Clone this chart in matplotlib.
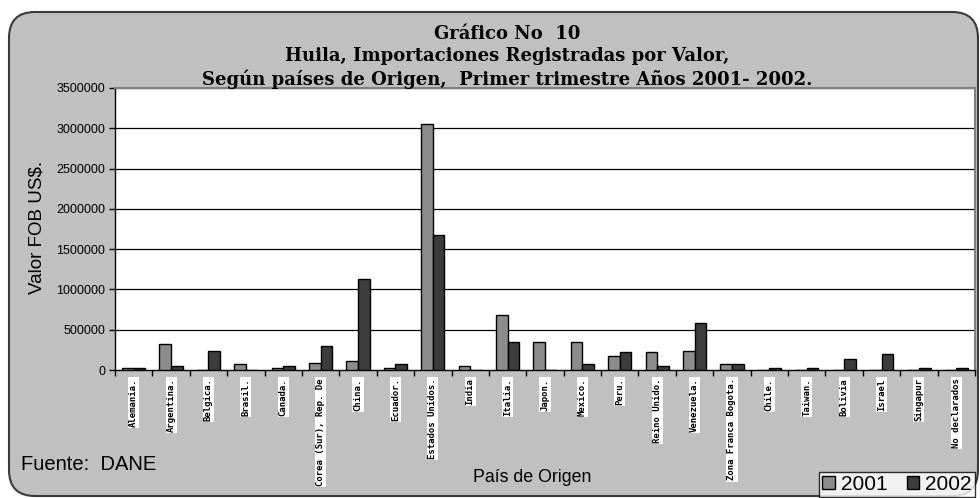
import numpy as np
import matplotlib
matplotlib.use("Agg")
import matplotlib.pyplot as plt
from matplotlib.patches import FancyBboxPatch, Patch

paises = ["Alemania.", "Argentina.", "Belgica.", "Brasil.", "Canada.",
          "Corea (Sur), Rep. De", "China.", "Ecuador.", "Estados Unidos.",
          "India", "Italia.", "Japon.", "Mexico.", "Peru.", "Reino Unido.",
          "Venezuela.", "Zona Franca Bogota.", "Chile.", "Taiwan.", "Bolivia",
          "Israel", "Singapur", "No declarados"]
v2001 = [20000, 322000, 0, 70000, 20000, 90000, 116000, 20000, 3050000,
         50000, 686000, 347000, 347000, 174000, 223000, 240000, 70000,
         0, 0, 0, 0, 0, 0]
v2002 = [20000, 50000, 240000, 0, 45000, 300000, 1130000, 70000, 1680000,
         0, 347000, 0, 70000, 223000, 50000, 583000, 70000,
         20000, 20000, 136000, 198000, 20000, 20000]
anios = ["2001", "2002"]
titulo = "Gráfico No  10\nHuila, Importaciones Registradas por Valor,\nSegún países de Origen,  Primer trimestre Años 2001- 2002."

W, H = 980, 498
fig = plt.figure(figsize=(W/100, H/100), dpi=100)

# background frame with rounded corners (pixel coordinates)
bg = fig.add_axes([0, 0, 1, 1], zorder=0)
bg.set_xlim(0, W)
bg.set_ylim(H, 0)
bg.axis("off")
frame = FancyBboxPatch((9, 12), 969, 484, boxstyle="round,pad=0,rounding_size=26",
                       facecolor="#c0c0c0", edgecolor="#3a3a3a", linewidth=1.5)
bg.add_patch(frame)

ax = fig.add_axes([115/W, 1-370/H, (975-115)/W, (370-88)/H], zorder=1)
ax.set_facecolor("white")

x = np.arange(len(paises))
bw = 0.31
ax.bar(x - bw/2, v2001, bw, color="#8c8c8c", edgecolor="black", linewidth=1, zorder=3)
ax.bar(x + bw/2, v2002, bw, color="#3c3c3c", edgecolor="black", linewidth=1, zorder=3)

ax.set_xlim(-0.5, len(paises) - 0.5)
ax.set_ylim(0, 3500000)
ax.set_yticks(np.arange(0, 3500001, 500000))
ax.set_yticklabels([str(int(v)) for v in np.arange(0, 3500001, 500000)],
                   fontsize=9, family="Liberation Sans")
for t in np.arange(500000, 3500001, 500000):
    ax.axhline(t, color="black", linewidth=0.9, zorder=1)

ax.set_xticks(x)
ax.set_xticklabels(paises, rotation=90, fontsize=6.5, va="top", ha="center",
                   fontweight="bold", family="DejaVu Sans Mono")
for lab in ax.get_xticklabels():
    lab.set_bbox(dict(facecolor="white", edgecolor="none", pad=0.8))
ax.tick_params(axis="x", which="major", length=0, pad=6)
ax.set_xticks(np.arange(-0.5, len(paises), 1), minor=True)
ax.tick_params(axis="x", which="minor", length=4, width=1, direction="out")
ax.tick_params(axis="y", length=4, width=1, direction="out", pad=3)

for s in ["left", "bottom"]:
    ax.spines[s].set_color("black")
    ax.spines[s].set_linewidth(1)
for s in ["top", "right"]:
    ax.spines[s].set_color("#808080")
    ax.spines[s].set_linewidth(1.5)

fig.text(507/W, 1-57/H, titulo, ha="center", va="center", fontsize=13,
         fontweight="bold", family="DejaVu Serif", linespacing=1.3)
fig.text(37/W, 1-227/H, "Valor FOB US$.", rotation=90, ha="center", va="center",
         fontsize=13.5, family="Liberation Sans")
fig.text(532/W, 1-477/H, "País de Origen", ha="center", va="center",
         fontsize=12.8, family="Liberation Sans")
fig.text(21/W, 1-465/H, "Fuente:  DANE", ha="left", va="center",
         fontsize=14.5, family="Liberation Sans")

handles = [Patch(facecolor="#8c8c8c", edgecolor="black"),
           Patch(facecolor="#3c3c3c", edgecolor="black")]
leg = fig.legend(handles, anios, loc="lower right", bbox_to_anchor=(976/W, 0),
                 ncol=2, frameon=True, fancybox=False,
                 handlelength=0.6, handleheight=0.6, handletextpad=0.3,
                 columnspacing=0.9, borderpad=0.15, borderaxespad=0.05,
                 prop={"family": "Liberation Sans", "size": 15})
leg.get_frame().set_edgecolor("black")
leg.get_frame().set_linewidth(1)
leg.get_frame().set_facecolor("white")

fig.savefig("out.png", dpi=100)
